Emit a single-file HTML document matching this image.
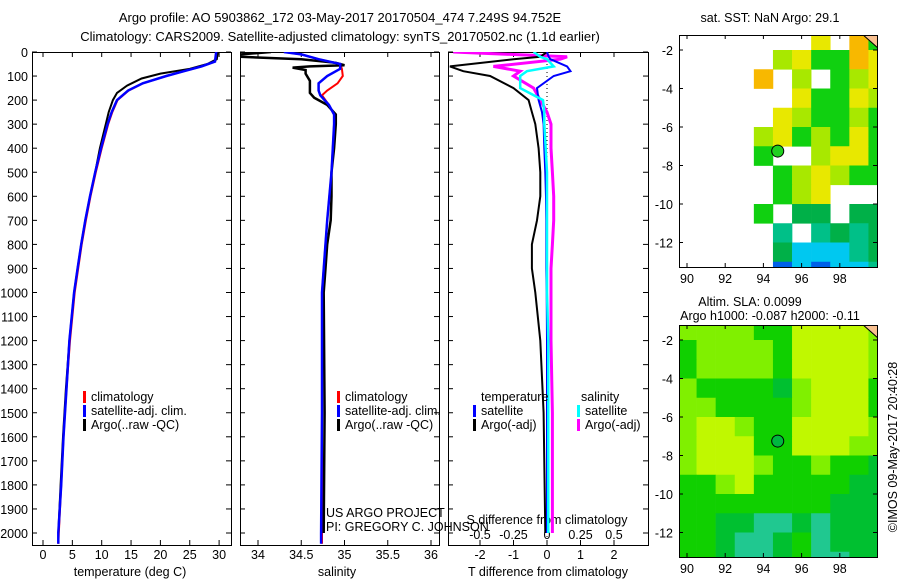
<!DOCTYPE html>
<html><head><meta charset="utf-8"><style>
body{margin:0;background:#fff;}
svg{display:block;font-family:"Liberation Sans",sans-serif;font-size:12.5px;}
</style></head><body>
<svg id="s" width="900" height="580" viewBox="0 0 900 580">
<text x="340" y="22" text-anchor="middle" font-size="13">Argo profile: AO 5903862_172 03-May-2017 20170504_474 7.249S 94.752E</text>
<text x="340" y="41" text-anchor="middle" font-size="13">Climatology: CARS2009. Satellite-adjusted climatology: synTS_20170502.nc (1.1d earlier)</text>
<text x="770" y="22" text-anchor="middle">sat. SST: NaN Argo: 29.1</text>
<text x="750" y="306" text-anchor="middle">Altim. SLA: 0.0099</text>
<text x="770" y="320" text-anchor="middle">Argo h1000: -0.087 h2000: -0.11</text>
<text transform="translate(897,447) rotate(-90)" text-anchor="middle">©IMOS 09-May-2017 20:40:28</text>
<text x="130" y="576" text-anchor="middle">temperature (deg C)</text>
<text x="337" y="576" text-anchor="middle">salinity</text>
<text x="548" y="576" text-anchor="middle">T difference from climatology</text>
<text x="547" y="524" text-anchor="middle">S difference from climatology</text>
<text x="326" y="517">US ARGO PROJECT</text>
<text x="326" y="531">PI: GREGORY C. JOHNSON</text>
</svg>
<script>
// ---- data ----
const depthTicks=[0,100,200,300,400,500,600,700,800,900,1000,1100,1200,1300,1400,1500,1600,1700,1800,1900,2000];
const tempTicks=[0,5,10,15,20,25,30];
const salTicks=[34,34.5,35,35.5,36];
const tdTicks=[-2,-1,0,1,2];
const sdTicks=[-0.5,-0.25,0,0.25,0.5];
const lonTicks=[90,92,94,96,98];
const latTicks=[-2,-4,-6,-8,-10,-12];
const tDepthArgo=[0,30,50,70,90,110,140,170,200,250,300,400,500,600,700,800,900,1000,1200,1400,1600,1800,2000];
const tempArgo=[29.8,29.6,28,25,20,16.8,14.3,12.6,11.9,11.2,10.7,9.7,8.9,8.0,7.2,6.5,5.9,5.3,4.5,3.9,3.4,3.0,2.6];
const tDepthClim=[0,40,60,80,100,130,160,200,250,300,400,500,600,700,800,900,1000,1200,1400,1600,1800,2000,2045];
const tempClim=[29.5,29.3,27,24,21,17,14.6,12.7,11.8,11.1,10.0,9.0,8.1,7.3,6.6,6.0,5.4,4.6,4.0,3.5,3.1,2.7,2.6];
const tempSat=[29.5,29.3,27,24,21,17,14.5,12.6,11.7,11.0,9.9,8.9,8.0,7.2,6.5,5.9,5.3,4.5,4.0,3.5,3.1,2.6,2.6];
const sDepthArgo=[0,10,20,30,45,55,60,65,75,90,120,150,170,190,220,260,300,400,500,600,700,800,900,1000,1500,2000];
const salArgo=[34.15,33.8,33.8,34.5,34.9,35.0,34.6,34.4,34.55,34.55,34.6,34.6,34.6,34.65,34.8,34.9,34.9,34.88,34.85,34.85,34.84,34.8,34.78,34.76,34.77,34.76];
const sDepthClim=[0,10,30,50,70,100,130,160,180,220,260,300,500,700,1000,1500,2000,2045];
const salClim=[34.3,34.5,34.7,34.95,34.97,34.98,34.92,34.8,34.74,34.82,34.88,34.88,34.85,34.8,34.74,34.74,34.74,34.74];
const salSat=[34.3,34.5,34.7,34.95,34.95,34.8,34.7,34.7,34.72,34.82,34.88,34.88,34.85,34.8,34.74,34.74,34.73,34.73];
const dDepth=[0,20,30,60,80,100,150,200,250,300,400,500,600,700,800,900,1000,1200,1500,2000];
const tdArgo=[0,-0.2,-1,-2.9,-2.5,-1.7,-1.0,-0.55,-0.45,-0.35,-0.25,-0.2,-0.2,-0.3,-0.45,-0.45,-0.35,-0.2,-0.1,-0.05];
const tdSat=[0,0.05,0.1,0.6,0.7,0.2,-0.3,-0.25,-0.15,-0.1,-0.08,-0.05,-0.03,-0.02,-0.02,-0.02,-0.01,0,0,0];
const sdArgo=[-0.7,0.15,0.1,-0.4,-0.2,-0.25,-0.1,-0.05,0,0.03,0.03,0.04,0.05,0.05,0.04,0.03,0.03,0.03,0.04,0.04];
const sdSat=[-0.1,-0.05,0,0.05,-0.15,-0.2,-0.2,-0.03,-0.02,-0.02,-0.01,0,0,0,0,0,0,0.01,0.01,0.01];
const sstGrid=[
".......y.og",
".....lyggoy",
"....o.l.gly",
"......yggyl",
".....ylgglg",
"....lyglgyg",
"....g..lyyg",
".....glylgg",
".....gly...",
"....g.dd.dd",
".....t.tdtd",
".....dccctd",
".....bcbcct"];
const slaGrid=[
"llllggyyyyl",
"gllllgyyyyl",
"gllllgyyyyl",
"lggggdlyyyg",
"llgggglyyyg",
"lyylggyyyyl",
"lyyyggyyyll",
"lyyylgglggd",
"gglygggggdd",
"ggggggggddd",
"ggddttdtddd",
"ggdttdgtddd",
"ggdttdgttdd"];
const argoLon=94.75, argoLat=-7.25;

const NS="http://www.w3.org/2000/svg";
const svg=document.getElementById('s');
function mk(tag,attrs,parent){const e=document.createElementNS(NS,tag);for(const k in attrs)e.setAttribute(k,attrs[k]);(parent||svg).appendChild(e);return e;}
const yD=d=>52+d*0.2405;
const panels=[
 {x0:32,x1:231,sx:v=>43+v*5.87,name:'temperature'},
 {x0:240,x1:439,sx:v=>258+(v-34)*86.5,name:'salinity'},
 {x0:448,x1:648,sx:v=>547+v*33.5,name:'difference'}];
const sxS=v=>547+v*134;
const clip=mk('defs',{});
panels.forEach((p,i)=>{
 const c=mk('clipPath',{id:'c'+i},clip);mk('rect',{x:p.x0,y:52,width:p.x1-p.x0,height:493},c);
 const g=mk('g',{});
 
 
 mk('rect',{x:p.x0+.5,y:52.5,width:p.x1-p.x0,height:493,fill:'none',stroke:'#000'},g);
 depthTicks.forEach(d=>{const y=yD(d);
  mk('line',{x1:p.x0,x2:p.x0+5,y1:y,y2:y,stroke:'#000'},g);
  mk('line',{x1:p.x1-5,x2:p.x1,y1:y,y2:y,stroke:'#000'},g);
  if(i==0){const t=mk('text',{x:28,y:y+5,'text-anchor':'end'},g);t.textContent=d;}
 });
});
function xticks(p,ticks,fmt,ly){ticks.forEach(v=>{const x=p.sx(v);
 mk('line',{x1:x,x2:x,y1:545,y2:540,stroke:'#000'});mk('line',{x1:x,x2:x,y1:52,y2:57,stroke:'#000'});
 const t=mk('text',{x:x,y:ly,'text-anchor':'middle'});t.textContent=fmt(v);});}
xticks(panels[0],tempTicks,v=>v,559);
xticks(panels[1],salTicks,v=>v,559);
xticks(panels[2],tdTicks,v=>v,559);
sdTicks.forEach(v=>{const t=mk('text',{x:sxS(v),y:539,'text-anchor':'middle'});t.textContent=v;});
function line(xs,ds,sx,color,w,ci,name){
 const pts=xs.map((v,k)=>sx(v).toFixed(1)+','+yD(ds[k]).toFixed(1)).join(' ');
 const e=mk('polyline',{points:pts,fill:'none',stroke:color,'stroke-width':w,'clip-path':'url(#c'+ci+')'});
 
 
}
line(tempClim,tDepthClim,panels[0].sx,'#f00',2,0,'temp-climatology-line');
line(tempArgo,tDepthArgo,panels[0].sx,'#000',2,0,'temp-argo-line');
line(tempSat,tDepthClim,panels[0].sx,'#00f',2.5,0,'temp-satellite-line');
line(salClim,sDepthClim,panels[1].sx,'#f00',2,1,'sal-climatology-line');
line(salArgo,sDepthArgo,panels[1].sx,'#000',2.5,1,'sal-argo-line');
line(salSat,sDepthClim,panels[1].sx,'#00f',2.5,1,'sal-satellite-line');
mk('line',{x1:547,x2:547,y1:52,y2:545,stroke:'#000','stroke-dasharray':'1,3'});
line(sdArgo,dDepth,sxS,'#f0f',3,2,'sdiff-argo-line');
line(tdArgo,dDepth,panels[2].sx,'#000',2,2,'tdiff-argo-line');
line(tdSat,dDepth,panels[2].sx,'#00f',2,2,'tdiff-satellite-line');
line(sdSat,dDepth,sxS,'#0ff',2.5,2,'sdiff-satellite-line');
function legend(x,y,items){items.forEach((it,k)=>{
 const g=mk('g',{});
 
 
 mk('rect',{x:x,y:y+k*14-10,width:3,height:12,fill:it[1]},g);
 const t=mk('text',{x:x+8,y:y+k*14},g);t.textContent=it[0];});}
legend(83,401,[['climatology','#f00'],['satellite-adj. clim.','#00f'],['Argo(..raw -QC)','#000']]);
legend(337,401,[['climatology','#f00'],['satellite-adj. clim.','#00f'],['Argo(..raw -QC)','#000']]);
const th=mk('text',{x:481,y:401});th.textContent='temperature';
const sh=mk('text',{x:581,y:401});sh.textContent='salinity';
legend(473,415,[['satellite','#00f'],['Argo(-adj)','#000']]);
legend(577,415,[['satellite','#0ff'],['Argo(-adj)','#f0f']]);
const sstCol={o:'#f8b800',y:'#e8e800',l:'#a8e800',g:'#10d010',d:'#00b048',t:'#00c088',c:'#00c8f0',b:'#0060e8'};
const slaCol={l:'#80f000',y:'#c0f800',g:'#10d000',d:'#00c030',t:'#20c890'};
function map(top,grid,col,mark,name){
 const L=679,R=877,T=top,B=top+232;
 const lx=v=>687+(v-90)*19.1, ly=v=>T+15+(-2-v)*19.25;
 const id='m'+top;const c=mk('clipPath',{id:id},clip);mk('rect',{x:L,y:T,width:R-L,height:B-T},c);
 const g=mk('g',{'clip-path':'url(#'+id+')'});
 
 
 grid.forEach((row,r)=>{[...row].forEach((ch,k)=>{if(col[ch]){
  const lon=89.5+k,lat=-1.0-r;
  mk('rect',{x:lx(lon),y:ly(lat),width:19.4,height:19.6,fill:col[ch]},g);}});});
 mk('path',{d:`M${lx(99.2)} ${ly(-1.2)} L${lx(100)} ${ly(-1.2)} L${lx(100)} ${ly(-1.9)} Z`,fill:'#f8c090',stroke:'#000'},g);
 const m=mk('circle',{cx:lx(argoLon),cy:ly(argoLat),r:6,fill:mark,stroke:'#000'});
 
 
 mk('rect',{x:L+.5,y:T+.5,width:R-L,height:B-T,fill:'none',stroke:'#000'});
 lonTicks.forEach(v=>{const x=lx(v);mk('line',{x1:x,x2:x,y1:T,y2:T+4,stroke:'#000'});mk('line',{x1:x,x2:x,y1:B,y2:B-4,stroke:'#000'});
  const t=mk('text',{x:x,y:B+16,'text-anchor':'middle'});t.textContent=v;});
 latTicks.forEach(v=>{const y=ly(v);mk('line',{x1:L,x2:L+4,y1:y,y2:y,stroke:'#000'});mk('line',{x1:R-4,x2:R,y1:y,y2:y,stroke:'#000'});
  const t=mk('text',{x:L-6,y:y+5,'text-anchor':'end'});t.textContent=v;});
}
map(35,sstGrid,sstCol,'#20d020','sst-map');
map(325,slaGrid,slaCol,'#00b840','sla-map');
</script>
</body></html>
